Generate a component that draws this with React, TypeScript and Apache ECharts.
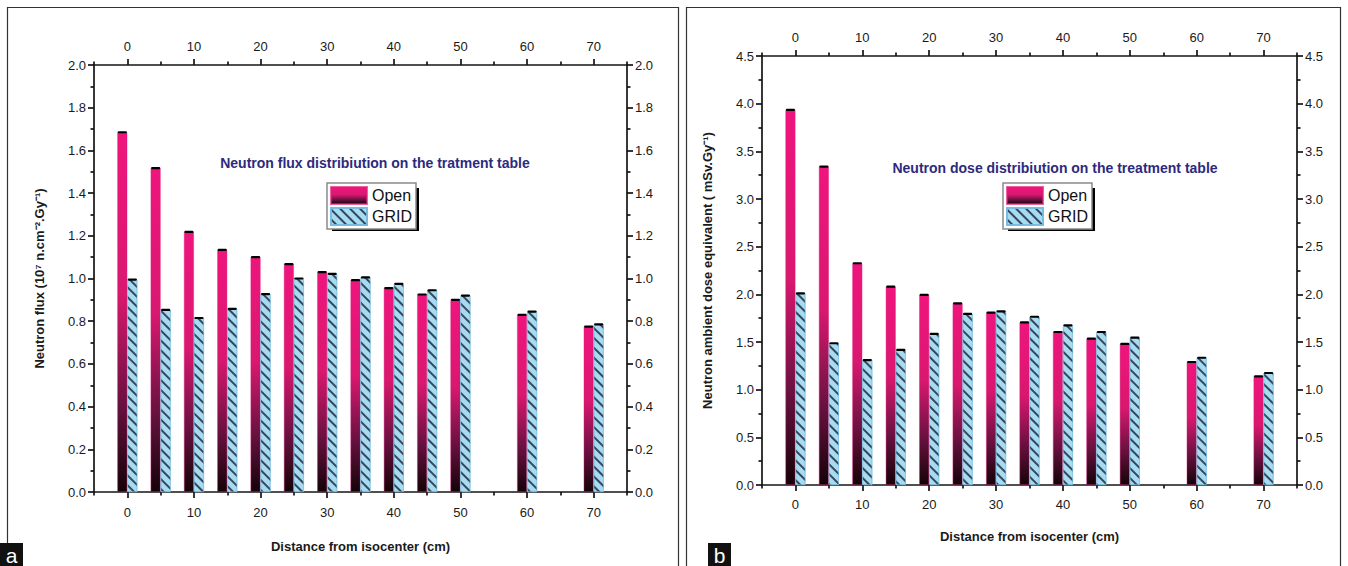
import React, { useEffect, useRef } from 'react';
import * as echarts from 'echarts';

// ---------- data ----------
const distances = [0, 5, 10, 15, 20, 25, 30, 35, 40, 45, 50, 60, 70];
const fluxOpen = [1.685, 1.517, 1.218, 1.134, 1.1, 1.067, 1.03, 0.992, 0.955, 0.925, 0.9, 0.83, 0.775];
const fluxGrid = [0.995, 0.853, 0.815, 0.858, 0.927, 1.0, 1.022, 1.005, 0.975, 0.945, 0.92, 0.845, 0.785];
const doseOpen = [3.935, 3.34, 2.326, 2.08, 1.994, 1.906, 1.808, 1.705, 1.605, 1.535, 1.48, 1.29, 1.14];
const doseGrid = [2.01, 1.487, 1.31, 1.417, 1.585, 1.794, 1.822, 1.765, 1.675, 1.605, 1.545, 1.335, 1.175];
const xMajorTicks = [0, 10, 20, 30, 40, 50, 60, 70];
const xMinorTicks = [-5, 5, 15, 25, 35, 45, 55, 65, 75];
const seriesNames = ['Open', 'GRID'];
const titles = [
  'Neutron flux distribiution on the tratment table',
  'Neutron dose distribiution on the treatment table',
];
const yNames = ['Neutron flux (10⁷ n.cm⁻².Gy⁻¹)', 'Neutron ambient dose equivalent ( mSv.Gy⁻¹)'];
const xName = 'Distance from isocenter (cm)';
const panelLetters = ['a', 'b'];

const FONT = 'Liberation Sans, Arial, sans-serif';
const AXIS_COLOR = '#151515';

const openGradient = () =>
  new echarts.graphic.LinearGradient(0, 0, 0, 1, [
    { offset: 0, color: '#ef157d' },
    { offset: 0.45, color: '#d9186f' },
    { offset: 0.75, color: '#6a1140' },
    { offset: 1, color: '#140307' },
  ]);

const gridDecal = {
  symbol: 'rect',
  symbolSize: 1,
  color: 'rgba(35,45,60,0.85)',
  dashArrayX: [1, 0],
  dashArrayY: [1.3, 4.3],
  rotation: Math.PI / 4,
};

export default function App() {
  const ref = useRef<HTMLDivElement>(null);

  useEffect(() => {
    document.body.style.margin = '0';
    const chart = echarts.init(ref.current!, undefined, { renderer: 'svg' });

    const grids = [
      { left: 94, top: 65, width: 533, height: 427 },
      { left: 762, top: 56, width: 535, height: 429 },
    ];
    const yMax = [2.0, 4.5];
    const yInt = [0.2, 0.5];
    const xNameGap = [48, 45];
    const bottomMargin = [14, 13];
    const openData = [fluxOpen, doseOpen];
    const gridData = [fluxGrid, doseGrid];

    const lineStyle = { color: AXIS_COLOR, width: 1.7 };
    const labelStyle = { color: '#1a1a1a', fontSize: 13, fontFamily: FONT };
    const nameStyle = { fontSize: 13, fontWeight: 'bold', color: '#1a1a1a', fontFamily: FONT };

    const xAxes: any[] = [];
    const yAxes: any[] = [];
    const series: any[] = [];

    grids.forEach((_, g) => {
      const base = {
        gridIndex: g,
        type: 'value',
        min: -5,
        max: 75,
        splitLine: { show: false },
      };
      // bottom major
      xAxes.push({
        ...base,
        position: 'bottom',
        name: xName,
        nameLocation: 'middle',
        nameGap: xNameGap[g],
        nameTextStyle: nameStyle,
        axisLine: { onZero: false, lineStyle },
        axisTick: { customValues: xMajorTicks, length: 6, lineStyle },
        axisLabel: { ...labelStyle, customValues: xMajorTicks, margin: bottomMargin[g] },
      });
      // bottom minor
      xAxes.push({
        ...base,
        position: 'bottom',
        axisLine: { show: false, onZero: false },
        axisLabel: { show: false },
        axisTick: { customValues: xMinorTicks, length: 3.5, lineStyle },
      });
      // top major
      xAxes.push({
        ...base,
        position: 'top',
        axisLine: { onZero: false, lineStyle },
        axisTick: { customValues: xMajorTicks, length: 6, lineStyle },
        axisLabel: { ...labelStyle, customValues: xMajorTicks, margin: 12 },
      });
      // top minor
      xAxes.push({
        ...base,
        position: 'top',
        axisLine: { show: false, onZero: false },
        axisLabel: { show: false },
        axisTick: { customValues: xMinorTicks, length: 3.5, lineStyle },
      });

      const ybase = {
        gridIndex: g,
        type: 'value',
        min: 0,
        max: yMax[g],
        interval: yInt[g],
        splitLine: { show: false },
        axisLine: { show: true, onZero: false, lineStyle },
        axisTick: { show: true, length: 6, lineStyle },
        minorTick: { show: true, splitNumber: 2, length: 3.5, lineStyle },
        minorSplitLine: { show: false },
        axisLabel: { ...labelStyle, margin: 8, formatter: (v: number) => v.toFixed(1) },
      };
      yAxes.push({
        ...ybase,
        position: 'left',
        name: yNames[g],
        nameLocation: 'middle',
        nameGap: 48,
        nameRotate: 90,
        nameTextStyle: nameStyle,
      });
      yAxes.push({ ...ybase, position: 'right' });

      const xi = g * 4;
      const yi = g * 2;
      series.push({
        type: 'bar',
        name: seriesNames[0],
        xAxisIndex: xi,
        yAxisIndex: yi,
        barWidth: 10,
        barGap: '0%',
        data: distances.map((d, i) => [d, openData[g][i]]),
        itemStyle: { color: openGradient(), borderColor: 'rgba(225,30,125,0.7)', borderWidth: 0.6 },
        z: 2,
      });
      series.push({
        type: 'bar',
        name: seriesNames[1],
        xAxisIndex: xi,
        yAxisIndex: yi,
        barWidth: 10,
        barGap: '0%',
        data: distances.map((d, i) => [d, gridData[g][i]]),
        itemStyle: { color: '#a6dcf3', decal: gridDecal, borderColor: 'rgba(120,190,225,0.9)', borderWidth: 0.6 },
        z: 2,
      });
      // error caps on top of each bar
      [openData[g], gridData[g]].forEach((vals, k) => {
        series.push({
          type: 'custom',
          name: 'cap' + k,
          xAxisIndex: xi,
          yAxisIndex: yi,
          data: distances.map((d, i) => [d, vals[i]]),
          z: 5,
          silent: true,
          renderItem: (params: any, api: any) => {
            const p = api.coord([api.value(0), api.value(1)]);
            const c = k === 0 ? p[0] - 5 : p[0] + 5;
            return {
              type: 'line',
              shape: { x1: c - 3.5, y1: p[1], x2: c + 3.5, y2: p[1] },
              style: { stroke: '#000', lineWidth: 2.2, lineCap: 'round' },
            };
          },
        });
      });
    });

    const legendPos = [
      { left: 327, top: 183 },
      { left: 1003, top: 183 },
    ];
    const titlePos = [
      { x: 375, y: 163 },
      { x: 1055, y: 168 },
    ];
    const framePos = [
      { x: 7.5, w: 671 },
      { x: 686.5, w: 654 },
    ];
    const letterPos = [0, 708];

    const graphics: any[] = [];
    framePos.forEach((f) => {
      graphics.push({
        type: 'rect',
        shape: { x: f.x, y: 7.5, width: f.w, height: 600 },
        style: { fill: 'none', stroke: '#333', lineWidth: 1.2 },
        z: 0,
        silent: true,
      });
    });
    legendPos.forEach((l) => {
      graphics.push({
        type: 'rect',
        shape: { x: l.left + 5, y: l.top + 5, width: 87, height: 43 },
        style: { fill: '#000' },
        z: 1,
        silent: true,
      });
    });
    titlePos.forEach((t, i) => {
      graphics.push({
        type: 'text',
        x: t.x,
        y: t.y,
        style: {
          text: titles[i],
          fill: '#2c2a7e',
          font: `bold 14px ${FONT}`,
          textAlign: 'center',
          textVerticalAlign: 'middle',
        },
        z: 3,
      });
    });
    letterPos.forEach((x, i) => {
      graphics.push({
        type: 'rect',
        shape: { x, y: 543, width: 23, height: 23 },
        style: { fill: '#111' },
        z: 3,
      });
      graphics.push({
        type: 'text',
        x: x + 11.5,
        y: 555,
        style: {
          text: panelLetters[i],
          fill: '#fff',
          font: `21px ${FONT}`,
          textAlign: 'center',
          textVerticalAlign: 'middle',
        },
        z: 4,
      });
    });

    chart.setOption({
      animation: false,
      backgroundColor: '#fff',
      grid: grids,
      xAxis: xAxes,
      yAxis: yAxes,
      legend: legendPos.map((l) => ({
        ...l,
        orient: 'vertical',
        data: seriesNames,
        icon: 'rect',
        itemWidth: 36,
        itemHeight: 17,
        itemGap: 2,
        padding: [3, 4, 3, 3],
        backgroundColor: '#fff',
        borderColor: '#8a8a8a',
        borderWidth: 1.5,
        selectedMode: false,
        textStyle: { fontSize: 16, color: '#111', fontFamily: FONT },
        z: 10,
      })),
      graphic: graphics,
      series,
    });

    return () => chart.dispose();
  }, []);

  return <div ref={ref} style={{ width: 1348, height: 566 }} />;
}
